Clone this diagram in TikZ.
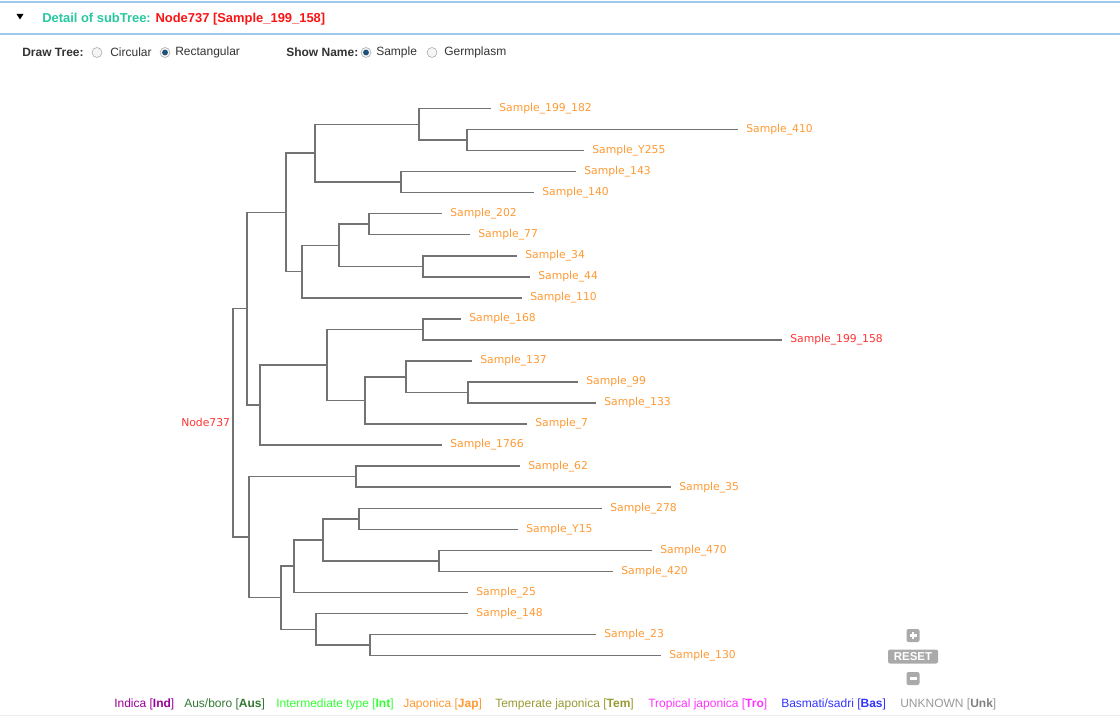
\documentclass[tikz,border=0pt]{standalone}
\usepackage{fontspec}
\setmainfont{Liberation Sans}
\newfontfamily\verd{DejaVu Sans}
\definecolor{leaforange}{RGB}{255,153,51}
\definecolor{leafred}{RGB}{255,51,51}
\definecolor{titleteal}{RGB}{40,200,160}
\definecolor{titlered}{RGB}{250,20,20}
\definecolor{branchgray}{RGB}{115,115,115}
\definecolor{sepblue}{RGB}{160,200,232}
\definecolor{labgray}{RGB}{51,51,51}
\definecolor{indcol}{RGB}{153,0,153}
\definecolor{auscol}{RGB}{51,119,51}
\definecolor{intcol}{RGB}{51,255,51}
\definecolor{temcol}{RGB}{153,153,51}
\definecolor{trocol}{RGB}{255,51,255}
\definecolor{bascol}{RGB}{51,51,255}
\definecolor{unkcol}{RGB}{153,153,153}
\definecolor{btngray}{RGB}{170,170,170}
\definecolor{radiodot}{RGB}{30,80,120}
\begin{document}
\begin{tikzpicture}[x=0.75pt,y=-0.75pt,
  br/.style={draw=branchgray,line width=1.15pt},
  leaf/.style={anchor=west,inner xsep=6pt,inner ysep=0pt,text=leaforange,font=\verd\fontsize{8.1}{9}\selectfont},
  leafhi/.style={leaf,text=leafred},
  ui/.style={anchor=west,inner sep=0pt,text=labgray,font=\fontsize{9}{11}\selectfont},
  uib/.style={ui,font=\bfseries\fontsize{9}{11}\selectfont},
  legend/.style={anchor=west,inner sep=0pt,font=\fontsize{9}{11}\selectfont},
  radio/.style={circle,draw=gray!70,fill=gray!8,minimum size=7.5pt,inner sep=0pt,line width=0.4pt},
  btn/.style={fill=btngray,rounded corners=1.5pt,draw=none}
]
\useasboundingbox (0,-1.5) rectangle (1120,715.5);
% header
\draw[sepblue,line width=1.4pt] (0,0.5) -- (1120,0.5);
\draw[sepblue,line width=1.4pt] (0,32.5) -- (1120,32.5);
\fill[black] (16.5,12.5) -- (23.5,12.5) -- (20,18) -- cycle;
\node[anchor=west,inner sep=0pt,font=\bfseries\fontsize{9.7}{11}\selectfont] (title) at (42,17.5)
  {\textcolor{titleteal}{Detail of subTree:} \textcolor{titlered}{Node737 [Sample\_199\_158]}};
\node[uib] (drawtree) at (22,51) {Draw Tree:};
\node[radio] (r1) at (97,51) {};
\node[ui] (circ) at (110,51) {Circular};
\node[radio] (r2) at (165,51) {};
\fill[radiodot] (r2.center) circle (2.2pt);
\node[ui] (rect) at (175,51) {Rectangular};
\node[uib] (showname) at (286,51) {Show Name:};
\node[radio] (r3) at (366,51) {};
\fill[radiodot] (r3.center) circle (2.2pt);
\node[ui] (samp) at (376,51) {Sample};
\node[radio] (r4) at (432,51) {};
\node[ui] (germ) at (444,51) {Germplasm};
% leaves
\node[leaf] (l0) at (491,107) {Sample\_199\_182};
\node[leaf] (l1) at (738,128) {Sample\_410};
\node[leaf] (l2) at (584,149.1) {Sample\_Y255};
\node[leaf] (l3) at (576,170.1) {Sample\_143};
\node[leaf] (l4) at (534,191.2) {Sample\_140};
\node[leaf] (l5) at (442,212.2) {Sample\_202};
\node[leaf] (l6) at (470,233.2) {Sample\_77};
\node[leaf] (l7) at (517,254.3) {Sample\_34};
\node[leaf] (l8) at (530,275.3) {Sample\_44};
\node[leaf] (l9) at (522,296.4) {Sample\_110};
\node[leaf] (l10) at (461,317.4) {Sample\_168};
\node[leafhi] (l11) at (782,338.4) {Sample\_199\_158};
\node[leaf] (l12) at (472,359.5) {Sample\_137};
\node[leaf] (l13) at (578,380.5) {Sample\_99};
\node[leaf] (l14) at (596,401.6) {Sample\_133};
\node[leaf] (l15) at (527,422.6) {Sample\_7};
\node[leaf] (l16) at (442,443.6) {Sample\_1766};
\node[leaf] (l17) at (520,464.7) {Sample\_62};
\node[leaf] (l18) at (671,485.7) {Sample\_35};
\node[leaf] (l19) at (602,506.8) {Sample\_278};
\node[leaf] (l20) at (518,527.8) {Sample\_Y15};
\node[leaf] (l21) at (652,548.8) {Sample\_470};
\node[leaf] (l22) at (613,569.9) {Sample\_420};
\node[leaf] (l23) at (468,590.9) {Sample\_25};
\node[leaf] (l24) at (468,612) {Sample\_148};
\node[leaf] (l25) at (596,633) {Sample\_23};
\node[leaf] (l26) at (661,654) {Sample\_130};
% internal nodes
\coordinate (root) at (233,421.4);
\coordinate (nG) at (247,307.2);
\coordinate (nB) at (286,210.9);
\coordinate (nA) at (315,151.7);
\coordinate (nA1) at (419,122.8);
\coordinate (n410) at (467,138.5);
\coordinate (n143) at (401,180.6);
\coordinate (nC) at (302,270.1);
\coordinate (nD) at (339,243.8);
\coordinate (nE) at (369,222.7);
\coordinate (nF) at (423,264.8);
\coordinate (nH) at (260,403.5);
\coordinate (nI) at (327,363.4);
\coordinate (nJ) at (423,327.9);
\coordinate (nK) at (365,398.9);
\coordinate (nL) at (406,375.3);
\coordinate (nM) at (468,391.0);
\coordinate (nN) at (249,535.7);
\coordinate (nO) at (356,475.2);
\coordinate (nP) at (281,596.2);
\coordinate (nQ) at (294,564.6);
\coordinate (nS) at (323,538.3);
\coordinate (nT) at (359,517.3);
\coordinate (nU) at (439,559.4);
\coordinate (nR) at (316,627.8);
\coordinate (nV) at (370,643.5);
\node[anchor=east,inner xsep=2pt,inner ysep=0pt,text=leafred,font=\verd\fontsize{8.1}{9}\selectfont] (rootlbl) at (root) {Node737};
% branches
\draw[br] (root) |- (nG);  \draw[br] (root) |- (nN);
\draw[br] (nG) |- (nB);    \draw[br] (nG) |- (nH);
\draw[br] (nB) |- (nA);    \draw[br] (nB) |- (nC);
\draw[br] (nA) |- (nA1);   \draw[br] (nA) |- (n143);
\draw[br] (nA1) |- (l0.west); \draw[br] (nA1) |- (n410);
\draw[br] (n410) |- (l1.west); \draw[br] (n410) |- (l2.west);
\draw[br] (n143) |- (l3.west); \draw[br] (n143) |- (l4.west);
\draw[br] (nC) |- (nD);    \draw[br] (nC) |- (l9.west);
\draw[br] (nD) |- (nE);    \draw[br] (nD) |- (nF);
\draw[br] (nE) |- (l5.west); \draw[br] (nE) |- (l6.west);
\draw[br] (nF) |- (l7.west); \draw[br] (nF) |- (l8.west);
\draw[br] (nH) |- (nI);    \draw[br] (nH) |- (l16.west);
\draw[br] (nI) |- (nJ);    \draw[br] (nI) |- (nK);
\draw[br] (nJ) |- (l10.west); \draw[br] (nJ) |- (l11.west);
\draw[br] (nK) |- (nL);    \draw[br] (nK) |- (l15.west);
\draw[br] (nL) |- (l12.west); \draw[br] (nL) |- (nM);
\draw[br] (nM) |- (l13.west); \draw[br] (nM) |- (l14.west);
\draw[br] (nN) |- (nO);    \draw[br] (nN) |- (nP);
\draw[br] (nO) |- (l17.west); \draw[br] (nO) |- (l18.west);
\draw[br] (nP) |- (nQ);    \draw[br] (nP) |- (nR);
\draw[br] (nQ) |- (nS);    \draw[br] (nQ) |- (l23.west);
\draw[br] (nS) |- (nT);    \draw[br] (nS) |- (nU);
\draw[br] (nT) |- (l19.west); \draw[br] (nT) |- (l20.west);
\draw[br] (nU) |- (l21.west); \draw[br] (nU) |- (l22.west);
\draw[br] (nR) |- (l24.west); \draw[br] (nR) |- (nV);
\draw[br] (nV) |- (l25.west); \draw[br] (nV) |- (l26.west);
% zoom controls
\fill[btn] (906.5,627.5) rectangle (919.5,640.5);
\draw[white,line width=1.6pt] (909.5,634) -- (916.5,634) (913,630.5) -- (913,637.5);
\fill[btn] (888,648) rectangle (938,662);
\node[inner sep=0pt,text=white,font=\bfseries\fontsize{8.6}{10}\selectfont] (reset) at (913,655.3) {RESET};
\fill[btn] (906.5,670.5) rectangle (919.5,683.5);
\draw[white,line width=1.6pt] (909.5,677) -- (916.5,677);
% legend
\node[legend,text=indcol] (lgind) at (114,702.5) {Indica [\textbf{Ind}]};
\node[legend,text=auscol] (lgaus) at (184,702.5) {Aus/boro [\textbf{Aus}]};
\node[legend,text=intcol] (lgint) at (276,702.5) {Intermediate type [\textbf{Int}]};
\node[legend,text=leaforange] (lgjap) at (403,702.5) {Japonica [\textbf{Jap}]};
\node[legend,text=temcol] (lgtem) at (495,702.5) {Temperate japonica [\textbf{Tem}]};
\node[legend,text=trocol] (lgtro) at (648,702.5) {Tropical japonica [\textbf{Tro}]};
\node[legend,text=bascol] (lgbas) at (781,702.5) {Basmati/sadri [\textbf{Bas}]};
\node[legend,text=unkcol] (lgunk) at (900,702.5) {UNKNOWN [\textcolor{gray}{\textbf{Unk}}]};
\draw[gray!15,line width=0.8pt] (0,714) -- (1120,714);
\end{tikzpicture}
\end{document}
